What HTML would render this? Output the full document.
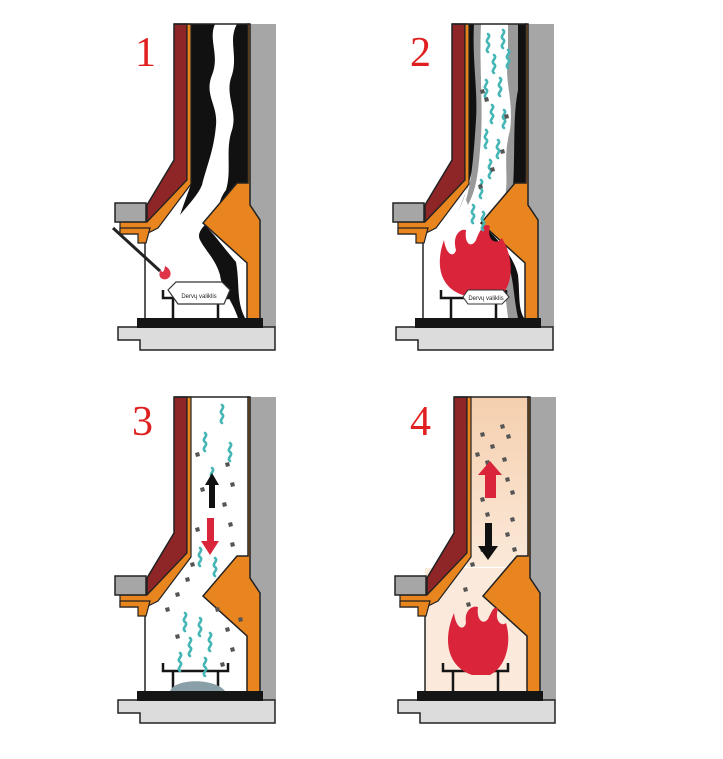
<!DOCTYPE html>
<html><head><meta charset="utf-8"><style>html,body{margin:0;padding:0;background:#fff}svg{display:block}</style></head>
<body>
<svg width="723" height="759" viewBox="0 0 723 759" xmlns="http://www.w3.org/2000/svg">
<defs>
<path id="sq" d="M0,0 c4,3 -4,6 0,9 c4,3 -4,6 0,9" fill="none" stroke="#45b5b5" stroke-width="2.6" stroke-linecap="round"/>
<path id="pt" d="M0,0 l4,-1 l1,4 l-4,1z" fill="#555"/>
<linearGradient id="peach" x1="0" y1="0" x2="0" y2="1"><stop offset="0" stop-color="#f5cfae"/><stop offset="1" stop-color="#fbe9d9"/></linearGradient>
<g id="base">
  <rect x="248" y="24" width="28" height="303" fill="#a6a6a6"/>
  <path d="M118,327 H275 V350 H140 V340 H118 Z" fill="#dcdcdc" stroke="#222" stroke-width="1.5"/>
  <path d="M174,24 H187 V180 L147,222 V205 L174,160 Z" fill="#8e2526" stroke="#222" stroke-width="1.5"/>
  <path d="M187,24 H191 V184 L158,228 L146,234 H120 V222 H147 L187,180 Z" fill="#e8851f" stroke="#222" stroke-width="1.2"/>
  <path d="M120,228 H150 L146,243 H138 V234 H120 Z" fill="#e8851f" stroke="#222" stroke-width="1.2"/>
  <rect x="115" y="203" width="31" height="19" fill="#a6a6a6" stroke="#222" stroke-width="1.5"/>
  <line x1="145" y1="243" x2="145" y2="319" stroke="#222" stroke-width="1.5"/>
  <line x1="174" y1="24" x2="249" y2="24" stroke="#222" stroke-width="1.5"/>
  <path d="M248,24 H250 V205 L260,220 V319 H247 V263 L203,223 L237,183 H248 Z" fill="#e8851f" stroke="#222" stroke-width="1.5"/>
  <rect x="137" y="318" width="126" height="10" fill="#151515"/>
  <g stroke="#151515" stroke-width="2.5" fill="none">
    <path d="M163,290 V298 H228 V290"/>
    <line x1="173" y1="298" x2="173" y2="318"/><line x1="218" y1="298" x2="218" y2="318"/>
  </g>
</g>
</defs>

<!-- PANEL 1 -->
<g>
  <rect x="145" y="235" width="115" height="84" fill="#fff"/>
  <path d="M191,24 H215 C208,40 220,55 212,75 C204,95 218,105 216,125 C214,150 207,165 202,185 C198,195 188,205 180,215 L191,184 Z" fill="#111"/>
  <path d="M237,24 H248 V183 L237,183 L203,223 L214,235 C222,245 230,255 236,262 C240,285 236,300 245,318 H238 C232,300 222,290 220,275 C216,260 205,250 200,240 C196,232 205,225 210,220 C220,210 218,200 226,190 C232,170 225,150 232,130 C238,110 224,95 232,75 C238,55 228,40 237,24 Z" fill="#111"/>
  <use href="#base"/>
  <line x1="113" y1="228" x2="160" y2="271" stroke="#222" stroke-width="3"/>
  <path d="M165,266 c6,3 8,10 2,13 c-6,2 -10,-4 -6,-9 c1,3 3,3 4,-4z" fill="#e0334a"/>
  <path d="M168,290 L176,282 H222 L230,290 L224,304 H178 Z" fill="#fff" stroke="#333" stroke-width="1.2"/>
  <text x="199" y="298" font-family="Liberation Sans, sans-serif" font-size="6" text-anchor="middle" fill="#222">Dervų valiklis</text>
  <text x="135" y="66" font-family="Liberation Serif, serif" font-size="42" fill="#e02020">1</text>
</g>

<!-- PANEL 2 -->
<g transform="translate(278,0)">
  <rect x="145" y="235" width="115" height="84" fill="#fff"/>
  <path d="M191,24 H200 C197,60 204,100 199,140 C196,165 192,185 180,212 L191,184 Z" fill="#111"/>
  <path d="M196,24 H203 C201,70 206,110 202,150 C200,175 198,190 190,205 L188,200 C194,180 196,150 198,120 C200,90 194,60 196,24 Z" fill="#999"/>
  <path d="M230,24 H248 V183 L237,183 L203,223 C215,238 230,252 238,270 C240,290 238,305 242,318 H230 C228,300 226,285 220,270 C212,255 206,245 204,232 C212,220 220,210 226,200 C232,180 224,160 232,130 C236,100 226,80 230,60 Z" fill="#999"/>
  <path d="M240,24 H248 V183 L237,183 L203,223 L210,230 C224,244 236,258 240,275 C242,295 240,308 246,318 H240 C236,300 236,285 232,270 C224,255 212,242 207,233 L234,200 C238,160 234,120 240,90 Z" fill="#111"/>
  <use href="#base"/>
  <path d="M188,296 C164,290 156,268 166,240 C168,255 176,258 178,250 C174,236 182,228 188,230 C186,245 194,248 198,240 C202,230 206,222 212,226 C208,240 218,246 224,238 C236,258 236,285 222,296 Z" fill="#d9243a"/>
  <path d="M185,297 L190,290 H225 L231,297 L224,304 H190 Z" fill="#fff" stroke="#333" stroke-width="1"/>
  <text x="208" y="300" font-family="Liberation Sans, sans-serif" font-size="6" text-anchor="middle" fill="#222">Dervų valiklis</text>
  <g>
    <use href="#sq" x="210" y="34"/><use href="#sq" x="225" y="30"/><use href="#sq" x="216" y="55"/><use href="#sq" x="230" y="50"/>
    <use href="#sq" x="208" y="80"/><use href="#sq" x="222" y="78"/><use href="#sq" x="214" y="105"/><use href="#sq" x="226" y="110"/>
    <use href="#sq" x="208" y="130"/><use href="#sq" x="220" y="140"/><use href="#sq" x="212" y="160"/><use href="#sq" x="203" y="180"/>
    <use href="#sq" x="195" y="205"/><use href="#sq" x="205" y="212"/>
    <use href="#pt" x="202" y="90"/><use href="#pt" x="206" y="98"/><use href="#pt" x="226" y="115"/><use href="#pt" x="212" y="168"/><use href="#pt" x="200" y="185"/><use href="#pt" x="222" y="150"/>
  </g>
  <text x="132" y="66" font-family="Liberation Serif, serif" font-size="42" fill="#e02020">2</text>
</g>

<!-- PANEL 3 -->
<g transform="translate(0,373)">
  <rect x="145" y="235" width="115" height="84" fill="#fff"/>
  <use href="#base"/>
  <path d="M170,318 C175,305 215,305 225,318 Z" fill="#8aa0a8"/>
  <g>
    <use href="#sq" x="222" y="32"/><use href="#sq" x="205" y="60"/><use href="#sq" x="230" y="70"/><use href="#sq" x="212" y="95"/>
    <use href="#sq" x="200" y="175"/><use href="#sq" x="215" y="185"/><use href="#sq" x="185" y="240"/><use href="#sq" x="200" y="245"/>
    <use href="#sq" x="190" y="265"/><use href="#sq" x="210" y="260"/><use href="#sq" x="180" y="280"/><use href="#sq" x="205" y="285"/>
    <use href="#pt" x="195" y="80"/><use href="#pt" x="225" y="90"/><use href="#pt" x="230" y="110"/><use href="#pt" x="200" y="115"/><use href="#pt" x="222" y="130"/>
    <use href="#pt" x="228" y="150"/><use href="#pt" x="195" y="155"/><use href="#pt" x="230" y="170"/><use href="#pt" x="190" y="190"/><use href="#pt" x="175" y="220"/>
    <use href="#pt" x="165" y="235"/><use href="#pt" x="215" y="235"/><use href="#pt" x="225" y="255"/><use href="#pt" x="230" y="275"/><use href="#pt" x="175" y="262"/>
    <use href="#pt" x="220" y="290"/><use href="#pt" x="238" y="245"/><use href="#pt" x="185" y="205"/>
  </g>
  <path d="M212,100 L219,112 H215 V135 H209 V112 H205 Z" fill="#111"/>
  <path d="M207,145 H214 V168 H219 L210,182 L201,168 H207 Z" fill="#d9243a"/>
  <text x="132" y="62" font-family="Liberation Serif, serif" font-size="42" fill="#e02020">3</text>
</g>

<!-- PANEL 4 -->
<g transform="translate(280,373)">
  <rect x="187" y="24" width="61" height="170" fill="url(#peach)"/>
  <rect x="145" y="195" width="115" height="124" fill="#fbeadb"/>
  <use href="#base"/>
  <path d="M192,302 C168,294 162,268 174,240 C176,256 184,258 186,250 C184,238 192,232 198,234 C196,248 204,252 208,246 C212,238 214,232 218,236 C214,248 222,254 226,250 C232,270 226,294 210,302 Z" fill="#d9243a"/>
  <g>
    <use href="#pt" x="200" y="60"/><use href="#pt" x="220" y="52"/><use href="#pt" x="226" y="62"/><use href="#pt" x="210" y="72"/><use href="#pt" x="195" y="80"/>
    <use href="#pt" x="205" y="88"/><use href="#pt" x="222" y="85"/><use href="#pt" x="225" y="105"/><use href="#pt" x="230" y="118"/><use href="#pt" x="200" y="125"/>
    <use href="#pt" x="205" y="140"/><use href="#pt" x="230" y="145"/><use href="#pt" x="225" y="160"/><use href="#pt" x="232" y="175"/><use href="#pt" x="200" y="175"/>
    <use href="#pt" x="190" y="190"/><use href="#pt" x="183" y="215"/><use href="#pt" x="186" y="230"/>
  </g>
  <path d="M210,88 L222,102 H216 V125 H205 V102 H198 Z" fill="#d9243a"/>
  <path d="M205,150 H212 V173 H218 L208,187 L198,173 H205 Z" fill="#111"/>
  <text x="130" y="62" font-family="Liberation Serif, serif" font-size="42" fill="#e02020">4</text>
</g>
</svg>
</body></html>
